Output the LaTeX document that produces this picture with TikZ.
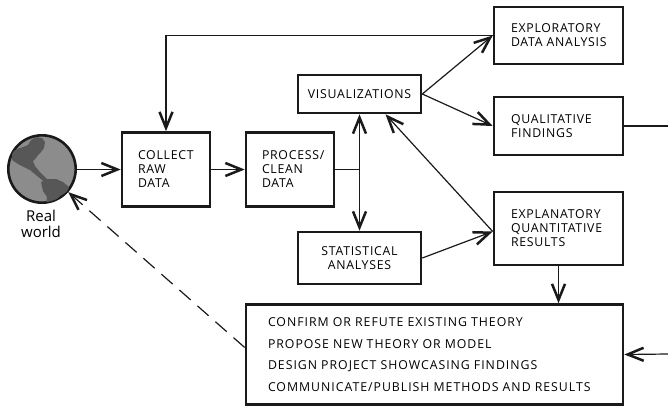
\documentclass[tikz,border=0pt]{standalone}
\usepackage{fontspec}
\setmainfont{Open Sans}
\newfontfamily\boxfont{Open Sans}[LetterSpace=6]
\newfontfamily\listfont{Open Sans}[LetterSpace=8]
\usetikzlibrary{arrows.meta}
\definecolor{globegray}{HTML}{8C8C8C}
\definecolor{landgray}{HTML}{575757}
\definecolor{inkgray}{HTML}{1A1A1A}
\begin{document}
\begin{tikzpicture}[x=1pt,y=-1pt,
  boxtext/.style={font=\boxfont\fontsize{12.3}{14}\selectfont},
  box/.style={draw=inkgray, line width=2.6pt, inner sep=0pt, boxtext},
  cbox/.style 2 args={box, align=center, minimum width=#1, minimum height=#2},
  lbox/.style n args={3}{box, align=left, inner xsep=#3, text width=#1-2*#3,
    minimum width=#1, minimum height=#2},
  conn/.style={draw=inkgray, line width=1.2pt},
  arr/.style={conn, -{Straight Barb[length=16pt,width=13pt,line width=2.5pt]}},
]
\useasboundingbox (0,0) rectangle (668,407);

% the globe
\node[circle, draw=inkgray, fill=globegray, line width=2.6pt, minimum size=67.4pt,
  inner sep=0pt] (globe) at (42,169) {};
\begin{scope}
  \clip (42,169) circle[radius=33.4];
  % North and Central America
  \fill[landgray] (31,140) -- (36,137) -- (42,138) -- (45,142) -- (44,148)
    -- (41,152) -- (38,155) -- (36,158) -- (33,161) -- (35,166) -- (39,171)
    -- (44,176) -- (48,180) -- (47,183) -- (42,180) -- (36,175) -- (30,170)
    -- (24,167) -- (18,164) -- (12,160) -- (12,152) -- (17,149) -- (23,147)
    -- (28,145) -- cycle;
  % South America
  \fill[landgray] (41,182) -- (48,179) -- (56,179) -- (63,182) -- (69,187)
    -- (67,192) -- (60,196) -- (55,201) -- (50,207) -- (46,205) -- (47,197)
    -- (43,191) -- cycle;
\end{scope}
\node[align=center, font=\fontsize{15}{16}\selectfont, inner sep=0pt]
  (realworld) at (41,223.5) {Real\\world};

% process boxes
\node[lbox={88}{74}{16}] (collect) at (166,169.5) {COLLECT\\RAW\\DATA};
\node[lbox={88}{74}{16}] (process) at (290,169.5) {PROCESS/\\CLEAN\\DATA};
\node[cbox={123}{38}] (vis) at (359.5,94) {VISUALIZATIONS};
\node[cbox={123}{52}] (stat) at (359.5,258) {STATISTICAL\\ANALYSES};
\node[lbox={129}{57}{17}] (eda) at (558.5,35.5) {EXPLORATORY\\DATA ANALYSIS};
\node[lbox={129}{58}{17}] (qf) at (558.5,126) {QUALITATIVE\\FINDINGS};
\node[lbox={129}{73}{17}] (eqr) at (558.5,228.5) {EXPLANATORY\\QUANTITATIVE\\RESULTS};
\node[lbox={377}{100}{22}, font=\listfont\fontsize{12.3}{21.7}\selectfont] (outcome)
  at (434.5,354.5) {CONFIRM OR REFUTE EXISTING THEORY\\
  PROPOSE NEW THEORY OR MODEL\\
  DESIGN PROJECT SHOWCASING FINDINGS\\
  COMMUNICATE/PUBLISH METHODS AND RESULTS};

% helper points
\coordinate (split) at (359.5,169.5);
\coordinate (qfout) at (668,126);
\coordinate (feedin) at (668,354);
\coordinate (eqrin) at ([yshift=-3pt]eqr.west);
\coordinate (visin) at ([xshift=26pt]vis.south);

% connectors
\draw[arr] (globe.east |- collect.west) -- (collect.west);
\draw[arr] (collect) -- (process);
\draw[conn] (process.east) -- (split);
\draw[arr] (split) -- (vis.south);
\draw[arr] (split) -- (stat.north);
\draw[arr] (vis.east) -- (eda.west);
\draw[arr] (vis.east) -- (qf.west);
\draw[arr] (eda.west) -| (collect.north);
\draw[arr] (stat.east) -- (eqrin);
\draw[arr] (eqrin) -- (visin);
\draw[arr] (eqr.south) -- (eqr.south |- outcome.north);
\draw[conn] (qf.east) -- (qfout);
\draw[arr] (feedin) -- (outcome.east);
\draw[arr, dash pattern=on 15pt off 9pt] ([yshift=7pt]outcome.west) -- (globe);
\end{tikzpicture}
\end{document}
